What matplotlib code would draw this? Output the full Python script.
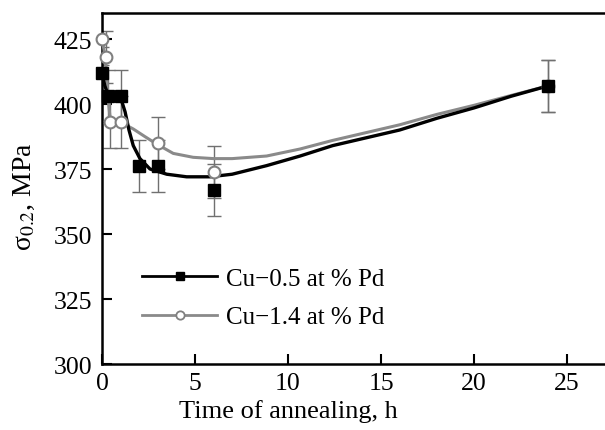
import matplotlib
matplotlib.use("Agg")
import matplotlib.pyplot as plt

# measured points (time of annealing, h ; sigma_0.2, MPa)
t_05 = [0, 0.33, 1, 2, 3, 6, 24]
s_05 = [412, 403, 403, 376, 376, 367, 407]
t_14 = [0, 0.2, 0.43, 1, 3, 6, 24]
s_14 = [425, 418, 393, 393, 385, 374, 407]
err = 10

# smooth guide curves
ct_05 = [0, 0.15, 0.33, 0.6, 1.0, 1.24, 1.45, 1.68, 2.04, 2.58, 3.48, 4.55, 5.8, 7.0,
         8.85, 10.65, 12.4, 14.2, 16, 18, 20, 22, 24]
cs_05 = [412, 407, 403.5, 403, 402.5, 397, 390, 384, 379, 375, 373, 372, 372, 373,
         376.3, 380, 384, 387, 390, 394.5, 398.5, 403, 407]
ct_14 = [0, 0.1, 0.2, 0.3, 0.43, 0.7, 1.0, 1.68, 2.3, 2.94, 3.83, 4.9, 6, 7,
         8.85, 10.65, 12.4, 14.2, 16, 18, 20, 22, 24]
cs_14 = [425, 421, 415, 404, 395, 393.5, 393, 390.4, 387.5, 384.6, 381, 379.5, 379, 379,
         380, 382.7, 386, 389, 392, 396, 399.5, 403.3, 407]

plt.rcParams['font.family'] = 'Liberation Serif'
plt.rcParams['mathtext.fontset'] = 'stix'

fig = plt.figure(figsize=(6.05, 4.31), dpi=100)
ax = fig.add_axes([0.1686, 0.1531, 0.8314, 0.8144])

ecol = '#707070'
ax.errorbar(t_05, s_05, yerr=err, fmt='none', ecolor=ecol, elinewidth=1, capsize=4.7, capthick=1, zorder=2)
ax.errorbar(t_14, s_14, yerr=err, fmt='none', ecolor=ecol, elinewidth=1, capsize=4.7, capthick=1, zorder=2)

ax.plot(ct_14, cs_14, color='#8a8a8a', lw=2.2, zorder=3)
ax.plot(ct_05, cs_05, color='black', lw=2.4, zorder=3)

ax.plot(t_14, s_14, 'o', ms=8.5, mfc='white', mec='#808080', mew=1.5, zorder=4, clip_on=False)
ax.plot(t_05, s_05, 's', ms=8.5, mfc='black', mec='black', zorder=5, clip_on=False)

# legend handles
ax.plot([], [], '-s', color='black', lw=2, ms=6, label='Cu\u22120.5 at % Pd')
ax.plot([], [], '-o', color='#8a8a8a', lw=2, ms=6, mfc='white', mec='#808080', mew=1.3,
        label='Cu\u22121.4 at % Pd')
ax.legend(loc='upper left', bbox_to_anchor=(0.08, 0.276), frameon=False, fontsize=18,
          handlelength=3.0, handletextpad=0.35, labelspacing=0.65, borderpad=0, borderaxespad=0)

ax.set_xlim(0, 27.04)
ax.set_ylim(300, 435)
ax.set_xticks([0, 5, 10, 15, 20, 25])
ax.set_yticks([300, 325, 350, 375, 400, 425])
ax.tick_params(direction='in', length=7, width=1.5, labelsize=18.5)
ax.tick_params(axis='y', pad=7)
ax.tick_params(axis='x', pad=6)
ax.spines['right'].set_visible(False)
for s in ['left', 'bottom', 'top']:
    ax.spines[s].set_linewidth(1.8)

ax.set_xlabel('Time of annealing, h', fontsize=19)
ax.xaxis.set_label_coords((288 - 102) / 503, -0.1)
ax.set_ylabel(r'σ$_{\mathrm{0.2}}$, MPa', fontsize=20)
ax.yaxis.set_label_coords(-0.13, 0.48)

fig.savefig('out.png', dpi=100)
